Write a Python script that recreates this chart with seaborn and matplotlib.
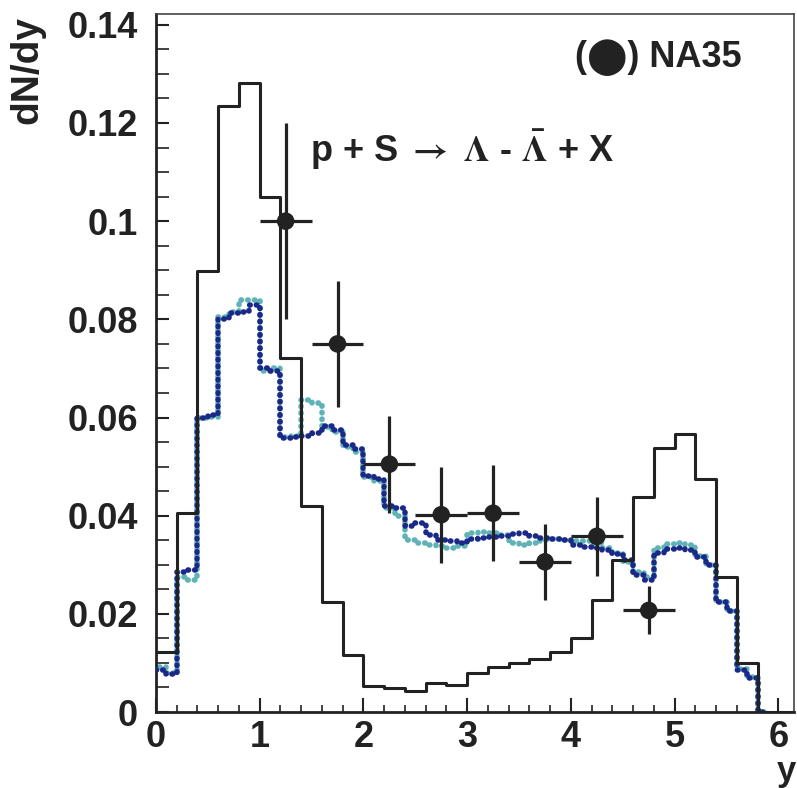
import numpy as np
import pandas as pd
import matplotlib
matplotlib.use("Agg")
import matplotlib.pyplot as plt
import seaborn as sns
from matplotlib.ticker import MultipleLocator

# ---------------- data ----------------
# solid histogram (model, 0.2-wide bins starting at y=0)
solid_width = 0.2
solid_values = [0.0123, 0.0405, 0.0899, 0.1234, 0.1282, 0.1050, 0.0721, 0.0420,
                0.0225, 0.0116, 0.0053, 0.0048, 0.0043, 0.0060, 0.0056, 0.0079,
                0.0091, 0.0099, 0.0109, 0.0123, 0.0150, 0.0228, 0.0310, 0.0439,
                0.0537, 0.0567, 0.0474, 0.0276, 0.0100, 0.0, 0.0]

# dotted histograms (0.1-wide bins starting at y=0)
dotted_width = 0.1
blue_values = [0.0085, 0.0078, 0.0285, 0.0290, 0.0600, 0.0605, 0.0800, 0.0812,
               0.0815, 0.0830, 0.0700, 0.0695, 0.0558, 0.0560, 0.0562, 0.0568,
               0.0582, 0.0575, 0.0545, 0.0535, 0.0480, 0.0475, 0.0420, 0.0415,
               0.0380, 0.0385, 0.0360, 0.0350, 0.0348, 0.0345, 0.0352, 0.0355,
               0.0356, 0.0358, 0.0362, 0.0365, 0.0358, 0.0355, 0.0352, 0.0350,
               0.0340, 0.0337, 0.0335, 0.0330, 0.0322, 0.0310, 0.0280, 0.0270,
               0.0325, 0.0332, 0.0335, 0.0330, 0.0315, 0.0300, 0.0225, 0.0205,
               0.0085, 0.0070, 0.0]
cyan_values = [0.0092, 0.0080, 0.0275, 0.0268, 0.0598, 0.0602, 0.0805, 0.0815,
               0.0840, 0.0840, 0.0695, 0.0700, 0.0560, 0.0562, 0.0635, 0.0630,
               0.0580, 0.0570, 0.0540, 0.0530, 0.0478, 0.0470, 0.0415, 0.0400,
               0.0350, 0.0345, 0.0340, 0.0338, 0.0335, 0.0338, 0.0365, 0.0367,
               0.0365, 0.0360, 0.0345, 0.0340, 0.0345, 0.0350, 0.0352, 0.0350,
               0.0348, 0.0349, 0.0345, 0.0335, 0.0325, 0.0305, 0.0285, 0.0275,
               0.0335, 0.0342, 0.0345, 0.0340, 0.0318, 0.0300, 0.0225, 0.0205,
               0.0088, 0.0072, 0.0]

# NA35 data points
na35_y = [1.25, 1.75, 2.25, 2.75, 3.25, 3.75, 4.25, 4.75]
na35_dndy = [0.100, 0.075, 0.0505, 0.0402, 0.0405, 0.0306, 0.0358, 0.0207]
na35_yerr = [0.020, 0.0128, 0.0099, 0.0098, 0.0098, 0.0078, 0.0080, 0.0049]
na35_xerr = [0.25, 0.25, 0.25, 0.25, 0.25, 0.25, 0.25, 0.25]

xtick_values = [0, 1, 2, 3, 4, 5, 6]
xtick_labels = ["0", "1", "2", "3", "4", "5", "6"]
ytick_values = [0, 0.02, 0.04, 0.06, 0.08, 0.1, 0.12, 0.14]
ytick_labels = ["0", "0.02", "0.04", "0.06", "0.08", "0.1", "0.12", "0.14"]

# ---------------- style ----------------
sns.set_style("ticks")
plt.rcParams["font.family"] = ["Liberation Sans", "DejaVu Sans"]
plt.rcParams["font.weight"] = "bold"
plt.rcParams["mathtext.fontset"] = "stix"

ink = "#222222"

fig = plt.figure(figsize=(7.97, 7.88), dpi=100)
ax = fig.add_axes([0.1957, 0.0964, 0.8005, 0.8858])


def step_frame(values, width):
    edges = np.round(np.arange(len(values) + 1) * width, 6)
    heights = list(values) + [values[-1]]
    return pd.DataFrame({"y": edges, "h": heights})


# cyan dotted (underneath)
sns.lineplot(data=step_frame(cyan_values, dotted_width), x="y", y="h",
             estimator=None, sort=False, drawstyle="steps-post",
             color="#5fb2b6", linewidth=4.0, linestyle=(0.6, (0.1, 1.1)),
             dash_capstyle="round", solid_capstyle="round", ax=ax, zorder=2)
# dark blue dotted
sns.lineplot(data=step_frame(blue_values, dotted_width), x="y", y="h",
             estimator=None, sort=False, drawstyle="steps-post",
             color="#1a2888", linewidth=4.0, linestyle=(0, (0.1, 1.1)),
             dash_capstyle="round", solid_capstyle="round", ax=ax, zorder=3)
# solid histogram
sns.lineplot(data=step_frame(solid_values, solid_width), x="y", y="h",
             estimator=None, sort=False, drawstyle="steps-post",
             color=ink, linewidth=2.2, ax=ax, zorder=4)

# NA35 points with error bars
ax.errorbar(na35_y, na35_dndy, xerr=na35_xerr, yerr=na35_yerr, fmt="none",
            ecolor=ink, elinewidth=2.3, capsize=0, zorder=5)
sns.scatterplot(x=na35_y, y=na35_dndy, s=160, color=ink, edgecolor="none",
                ax=ax, zorder=6)

# ---------------- axes ----------------
ax.set_xlim(0, 6.15)
ax.set_ylim(0, 0.1422)
ax.set_xlabel("")
ax.set_ylabel("")
ax.set_xticks(xtick_values)
ax.set_xticklabels(xtick_labels, fontsize=26, fontweight="bold", color=ink)
ax.set_yticks(ytick_values)
ax.set_yticklabels(ytick_labels, fontsize=26, fontweight="bold", color=ink)
ax.xaxis.set_minor_locator(MultipleLocator(0.2))
ax.yaxis.set_minor_locator(MultipleLocator(0.005))
ax.tick_params(axis="both", which="both", direction="in", color=ink,
               top=False, right=False)
ax.tick_params(axis="x", which="major", length=10, width=1.5, pad=6)
ax.tick_params(axis="x", which="minor", length=5, width=1.2)
ax.tick_params(axis="y", which="major", length=9, width=1.5, pad=13)
ax.tick_params(axis="y", which="minor", length=9, width=1.2)
for side in ["left", "bottom"]:
    ax.spines[side].set_linewidth(2.0)
    ax.spines[side].set_color(ink)
for side in ["top", "right"]:
    ax.spines[side].set_linewidth(1.2)
    ax.spines[side].set_color("#444444")

# ---------------- texts ----------------
ax.text(0.918, 0.938, "(\u2b24) NA35", transform=ax.transAxes, ha="right",
        va="center", fontsize=26, fontweight="bold", color=ink,
        family=["Liberation Sans", "DejaVu Sans"])
ax.text(0.241, 0.805,
        r"p + S $\rightarrow$ $\Lambda$ - $\bar{\Lambda}$ + X",
        transform=ax.transAxes, ha="left", va="center", fontsize=26,
        fontweight="bold", color=ink)
fig.text(27 / 797, 1 - 70 / 788, "dN/dy", rotation=90, ha="center",
         va="center", fontsize=28, fontweight="bold", color=ink)
fig.text(796 / 797, 0.0, "y", ha="right", va="bottom",
         fontsize=25, fontweight="bold", color=ink)

fig.savefig("out.png", dpi=100, facecolor="white")
